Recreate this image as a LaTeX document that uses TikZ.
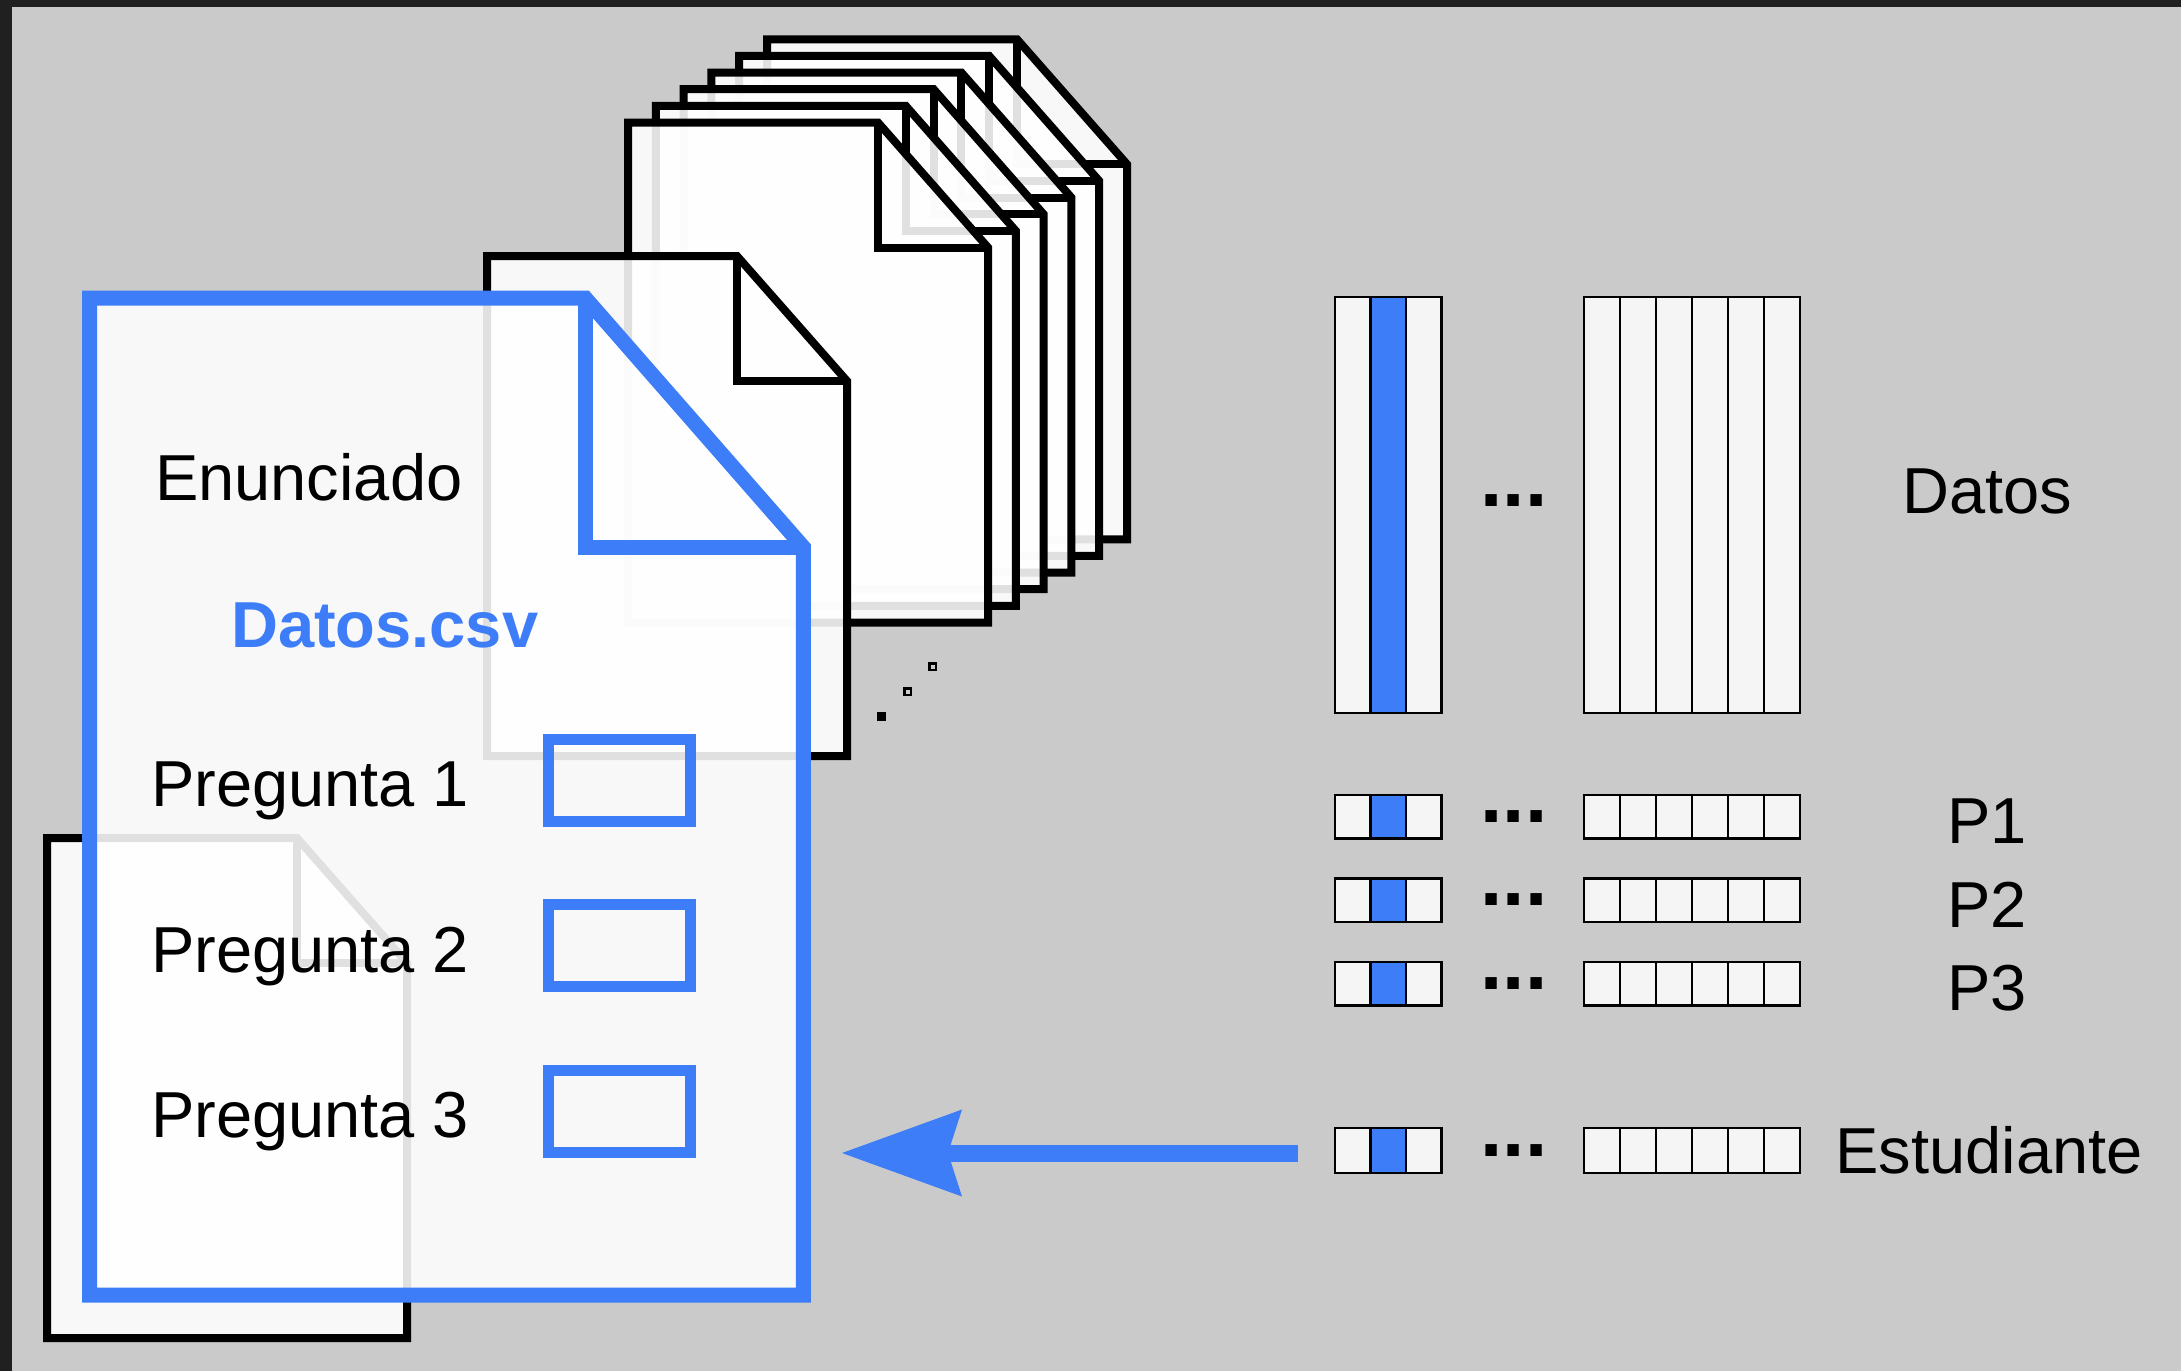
\documentclass[tikz,border=0pt]{standalone}
\usepackage{fontspec}
\setmainfont{Liberation Sans}
\usetikzlibrary{arrows.meta}
\definecolor{azul}{RGB}{61,125,248}
\definecolor{fondo}{RGB}{202,202,202}
\definecolor{marco}{RGB}{32,32,32}
\definecolor{celdagris}{RGB}{245,245,245}

\newcommand{\hoja}[5]{%
  \filldraw[#5] (#1,#2) -- ++(250*#3,0) -- ++(110*#3,125*#4) -- ++(0,375*#4) -- ++(-360*#3,0) -- cycle;
  \draw[#5, fill=none] (#1+250*#3,#2) -- ++(0,125*#4) -- ++(110*#3,0);
}
\newcommand{\fila}[2]{%
  \foreach \i in {0,1,2}
  {
    \filldraw[celda] ({1335+35.5*\i},#1) rectangle ++(35.5,#2);
  }
  \filldraw[celda, fill=azul] (1370.5,#1) rectangle ++(35.5,#2);
  \foreach \i in {0,...,5}
  {
    \filldraw[celda] ({1584+36*\i},#1) rectangle ++(36,#2);
  }
}

\begin{document}
\begin{tikzpicture}[x=1pt, y=-1pt,
    hojanegra/.style={draw=black, line width=8pt, fill=white, fill opacity=0.88},
    hojaazul/.style={draw=azul, line width=15pt, fill=white, fill opacity=0.88},
    celda/.style={draw=black, line width=2.8pt, fill=celdagris},
    texto/.style={font=\fontsize{65}{78}\selectfont, inner sep=0pt},
    puntos/.style={font=\fontsize{80}{80}\selectfont\bfseries, inner sep=0pt},
    caja/.style={draw=azul, line width=11pt, minimum width=142pt, minimum height=82pt, inner sep=0pt},
    flecha/.style={draw=azul, line width=17pt, -{Stealth[length=120pt, width=87pt, inset=14pt, line width=0pt]}}]
    \useasboundingbox (0,0) rectangle (2181,1371);
    \fill[fondo] (0,0) rectangle (2181,1371);
    \fill[marco] (0,0) rectangle (2181,7);
    \fill[marco] (0,0) rectangle (12,1371);

    \foreach \k in {5,4,...,0}
    {
        \hoja{628+27.8*\k}{122.5-16.65*\k}{1}{1}{hojanegra}
    }
    \hoja{487}{256}{1}{1}{hojanegra}
    \hoja{47}{838}{1}{1}{hojanegra}
    \hoja{89.5}{298}{1.983}{1.994}{hojaazul}

    \fill (877.2,712.2) rectangle ++(9,9);
    \filldraw[line width=2.5pt, fill=white!80!black] (904.5,688.5) rectangle ++(6.5,6.5);
    \filldraw[line width=2.5pt, fill=white!80!black] (929.5,663.5) rectangle ++(6.5,6.5);

    \node[texto, anchor=base west] (enunciado) at (155,500) {Enunciado};
    \node[texto, anchor=base west, text=azul, font=\fontsize{65}{78}\selectfont\bfseries] (csv) at (231,647) {Datos.csv};
    \foreach \n/\y in {1/806, 2/972, 3/1137}
    {
        \node[texto, anchor=base west] (preg\n) at (151,\y) {Pregunta \n};
    }
    \node[caja] (caja1) at (619,780) {};
    \node[caja] (caja2) at (619,945.5) {};
    \node[caja] (caja3) at (619,1111.5) {};

    \fila{297}{416}
    \fila{795}{43.5}
    \fila{878.5}{43.5}
    \fila{962}{43.5}
    \fila{1128}{45}
    \foreach \n/\y in {d0/501, d1/817, d2/900, d3/983.5, d4/1150.5}
    {
        \node[puntos] (\n) at (1514,\y) {...};
    }

    \node[texto, anchor=base] (datos) at (1987,513) {Datos};
    \node[texto, anchor=base] (p1) at (1987,843) {P1};
    \node[texto, anchor=base] (p2) at (1987,927) {P2};
    \node[texto, anchor=base] (p3) at (1987,1010) {P3};
    \node[texto, anchor=base] (estudiante) at (1989,1173) {Estudiante};

    \coordinate (origen) at (1298,1153);
    \coordinate (destino) at (842,1153);
    \draw[flecha] (origen) -- (destino);
\end{tikzpicture}
\end{document}
